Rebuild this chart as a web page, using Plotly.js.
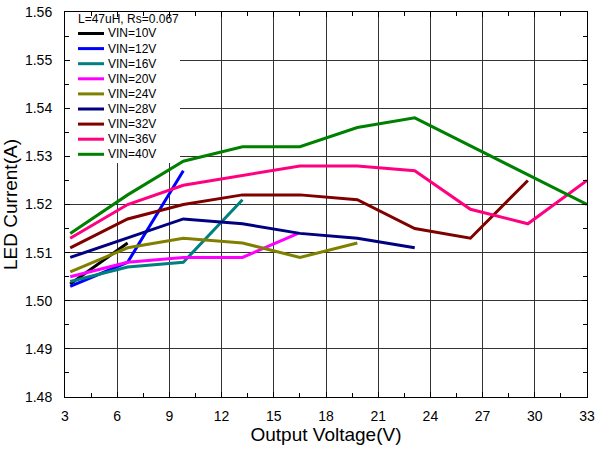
<!DOCTYPE html>
<html><head><meta charset="utf-8">
<script src="https://cdn.plot.ly/plotly-3.0.1.min.js"></script>
<style>html,body{margin:0;padding:0;background:#fff}#c{width:598px;height:450px}</style>
</head><body><div id="c"></div>
<script>
const legendTitle = 'L=47uH, Rs=0.067';
const seriesNames = ['VIN=10V','VIN=12V','VIN=16V','VIN=20V','VIN=24V','VIN=28V','VIN=32V','VIN=36V','VIN=40V'];
const seriesColors = ['#000000','#0000ff','#008080','#ff00ff','#808000','#000080','#800000','#ff0080','#008000'];
const x10 = [3.3, 6.6];           const y10 = [1.5035, 1.512];
const x12 = [3.3, 6.6, 9.8];      const y12 = [1.503, 1.508, 1.527];
const x16 = [3.3, 6.6, 9.8, 13.2]; const y16 = [1.504, 1.507, 1.508, 1.521];
const x20 = [3.3, 6.6, 9.8, 13.2, 16.4]; const y20 = [1.505, 1.508, 1.509, 1.509, 1.514];
const x24 = [3.3, 6.6, 9.8, 13.2, 16.5, 19.8]; const y24 = [1.506, 1.511, 1.513, 1.512, 1.509, 1.512];
const x28 = [3.3, 6.6, 9.8, 13.2, 16.5, 19.8, 23.1]; const y28 = [1.509, 1.513, 1.517, 1.516, 1.514, 1.513, 1.511];
const x32 = [3.3, 6.6, 9.8, 13.2, 16.5, 19.8, 23.1, 26.3, 29.6]; const y32 = [1.511, 1.517, 1.520, 1.522, 1.522, 1.521, 1.515, 1.513, 1.525];
const x36 = [3.3, 6.6, 9.8, 13.2, 16.5, 19.8, 23.1, 26.3, 29.6, 33]; const y36 = [1.513, 1.520, 1.524, 1.526, 1.528, 1.528, 1.527, 1.519, 1.516, 1.525];
const x40 = [3.3, 6.6, 9.8, 13.2, 16.5, 19.8, 23.1, 33]; const y40 = [1.514, 1.522, 1.529, 1.532, 1.532, 1.536, 1.538, 1.520];
const xs = [x10,x12,x16,x20,x24,x28,x32,x36,x40];
const ys = [y10,y12,y16,y20,y24,y28,y32,y36,y40];
const xTicks = [3,6,9,12,15,18,21,24,27,30,33];
const yTicks = [1.48,1.49,1.50,1.51,1.52,1.53,1.54,1.55,1.56];
const xRange = [3,33], yRange = [1.48,1.56];

const font = 'Liberation Sans, Arial, sans-serif';
const W = 598, H = 450, M = {l:65, r:11, t:12, b:53};
const pw = W - M.l - M.r, ph = H - M.t - M.b;
const px2x = p => (p - M.l) / pw;
const py2y = p => (H - M.b - p) / ph;
const px2data = p => xRange[0] + px2x(p)*(xRange[1]-xRange[0]);
const py2data = p => yRange[0] + py2y(p)*(yRange[1]-yRange[0]);

const traces = seriesNames.map((n,i)=>({
  x: xs[i], y: ys[i], name: n, type:'scatter', mode:'lines',
  line:{color: seriesColors[i], width:3}, showlegend:false
}));

// custom compact legend (box, samples, labels)
const shapes = [{type:'rect', xref:'x', yref:'y', layer:'between',
  x0:xRange[0], x1:px2data(180), y0:py2data(163), y1:yRange[1], fillcolor:'#fff', line:{width:0}}];
const annotations = [{xref:'paper', yref:'paper', x:px2x(76), y:py2y(19), xanchor:'left', yanchor:'middle',
  showarrow:false, text:legendTitle, font:{family:font, size:12, color:'#000'}}];
seriesNames.forEach((n,i)=>{
  const py = 33.5 + i*15.1;
  shapes.push({type:'line', xref:'paper', yref:'paper', layer:'above',
    x0:px2x(78), x1:px2x(104), y0:py2y(py), y1:py2y(py), line:{color:seriesColors[i], width:3}});
  annotations.push({xref:'paper', yref:'paper', x:px2x(106), y:py2y(py), xanchor:'left', yanchor:'middle',
    showarrow:false, text:n, font:{family:font, size:12, color:'#000'}});
});

const layout = {
  width:W, height:H, margin:M,
  paper_bgcolor:'#fff', plot_bgcolor:'#fff',
  showlegend:false, shapes, annotations,
  xaxis:{range:xRange, tickvals:xTicks, ticktext:xTicks.map(String),
    showgrid:true, gridcolor:'#333', gridwidth:1, zeroline:false,
    showline:true, linecolor:'#000', linewidth:1, mirror:'ticks',
    ticks:'inside', ticklen:5, tickcolor:'#000', ticklabelstandoff:6,
    minor:{dtick:1.5, ticks:'inside', ticklen:4, tickcolor:'#000', showgrid:false},
    tickfont:{family:font, size:14, color:'#000'},
    title:{text:'Output Voltage(V)', font:{family:font, size:19, color:'#000'}, standoff:2}},
  yaxis:{range:yRange, tickvals:yTicks, ticktext:yTicks.map(v=>v.toFixed(2)),
    showgrid:true, gridcolor:'#333', gridwidth:1, zeroline:false,
    showline:true, linecolor:'#000', linewidth:1, mirror:'ticks',
    ticks:'inside', ticklen:5, tickcolor:'#000', ticklabelstandoff:9,
    minor:{dtick:0.005, ticks:'inside', ticklen:4, tickcolor:'#000', showgrid:false},
    tickfont:{family:font, size:14, color:'#000'},
    title:{text:'LED Current(A)', font:{family:font, size:19, color:'#000'}, standoff:6}}
};
Plotly.newPlot('c', traces, layout, {displayModeBar:false, staticPlot:true});
</script></body></html>
